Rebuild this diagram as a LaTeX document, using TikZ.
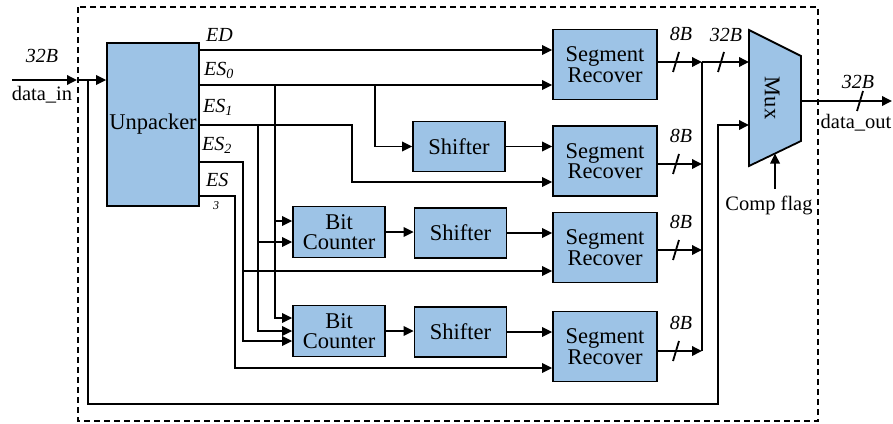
\documentclass[tikz,border=0pt]{standalone}
\usepackage{fontspec}
\setmainfont{Liberation Serif}
\usetikzlibrary{arrows.meta}
\definecolor{boxblue}{RGB}{157,195,230}

\begin{document}
\begin{tikzpicture}[x=1pt,y=-1pt,
  blk/.style={draw, fill=boxblue, line width=1.8pt, inner sep=0pt, align=center,
              font=\fontsize{22.5}{20.5}\selectfont},
  srbox/.style={blk, minimum width=104pt, minimum height=70pt},
  shbox/.style={blk, minimum width=92pt, minimum height=50pt},
  bcbox/.style={blk, minimum width=92pt, minimum height=51pt},
  wire/.style={line width=1.8pt},
  arr/.style={wire, -{Triangle[length=10pt,width=9.5pt]}},
  lbl/.style={font=\fontsize{20}{22}\selectfont\itshape, inner sep=0pt},
  txt/.style={font=\fontsize{20.5}{22}\selectfont, inner sep=0pt},
  frame/.style={line width=1.3pt, dash pattern=on 6pt off 4pt}
]
\useasboundingbox (0,0) rectangle (893,423);

% module boundary
\draw[frame] (78,7) rectangle (818,421);

% blocks
\node[blk, minimum width=92pt, minimum height=163pt] (unp) at (153,124.5) {Unpacker};
\node[srbox] (sr1) at (605,64.5) {Segment\\Recover};
\node[srbox] (sr2) at (605,161) {Segment\\Recover};
\node[srbox] (sr3) at (605,247.5) {Segment\\Recover};
\node[srbox] (sr4) at (605,346.5) {Segment\\Recover};
\node[shbox] (sh1) at (459,146.5) {Shifter};
\node[shbox] (sh2) at (460.5,233) {Shifter};
\node[shbox] (sh3) at (460.5,332) {Shifter};
\node[bcbox] (bc1) at (339,232) {Bit\\Counter};
\node[bcbox] (bc2) at (339,331) {Bit\\Counter};

% multiplexer
\coordinate (mA) at (749,30);
\coordinate (mB) at (801,56);
\coordinate (mC) at (801,141);
\coordinate (mD) at (749,166);
\draw[fill=boxblue, line width=1.8pt, line join=miter] (mA) -- (mB) -- (mC) -- (mD) -- cycle;
\node[rotate=-90, font=\fontsize{22.5}{22}\selectfont, inner sep=0pt] (mux) at (772,98) {Mux};
\coordinate (min1) at (749,62);
\coordinate (min2) at (749,125);
\coordinate (mout) at (801,101);
\coordinate (msel) at (775,153.5);

% input and bypass path
\coordinate (din) at (12,80);
\coordinate (edge) at (77,80);
\coordinate (tap) at (88,80);
\draw[arr] (din) -- (edge);
\draw[arr] (edge) -- (unp.west |- edge);
\draw[arr] (tap) -- (88,404) -- (718,404) -- (718,125) -- (min2);
\node[lbl] at (42,56) {32B};
\node[txt] at (42,95) {data\_in};

% ED
\draw[arr] (unp.east |- 0,50) -- (sr1.west |- 0,50);
\node[lbl, anchor=base west] at (206,41) {ED};
% ES0
\draw[arr] (unp.east |- 0,85) -- (sr1.west |- 0,85);
\draw[arr] (275,85) |- (bc1.west |- 0,221);
\draw[arr] (275,85) |- (bc2.west |- 0,318);
\draw[arr] (375,85) |- (sh1.west);
\node[lbl, anchor=base west] at (204,75) {ES\textsubscript{0}};
% ES1
\draw[arr] (unp.east |- 0,125) -| (352,182) -- (sr2.west |- 0,182);
\draw[arr] (258,125) |- (bc1.west |- 0,242);
\draw[arr] (258,125) |- (bc2.west |- 0,331);
\node[lbl, anchor=base west] at (203,112) {ES\textsubscript{1}};
% ES2
\draw[arr] (unp.east |- 0,162) -| (243,341) -- (bc2.west |- 0,341);
\draw[arr] (243,271) -- (sr3.west |- 0,271);
\node[lbl, anchor=base west] at (202,150) {ES\textsubscript{2}};
% ES3
\draw[arr] (unp.east |- 0,196) -| (235,368) -- (sr4.west |- 0,368);
\node[lbl, anchor=base west] at (206,186) {ES};
\node[lbl, anchor=base west, font=\fontsize{12}{12}\selectfont\itshape] at (213,209) {3};

% processing chains
\draw[arr] (bc1.east) -- (sh2.west |- bc1.east);
\draw[arr] (bc2.east) -- (sh3.west |- bc2.east);
\draw[arr] (sh1.east) -- (sr2.west |- sh1.east);
\draw[arr] (sh2.east) -- (sr3.west |- sh2.east);
\draw[arr] (sh3.east) -- (sr4.west |- sh3.east);

% segment outputs onto the 32B bus
\coordinate (busx) at (702,0);
\draw[arr] (sr1.east |- 0,62) -- (busx |- 0,62);
\draw[arr] (sr2.east |- 0,164) -- (busx |- 0,164);
\draw[arr] (sr3.east |- 0,250) -- (busx |- 0,250);
\draw[arr] (sr4.east |- 0,351) -- (busx |- 0,351);
\draw[wire] (busx |- 0,62) -- (busx |- 0,351);
\draw[arr] (busx |- 0,62) -- (min1);
\foreach \yy in {62,164,250,351} {
  \draw[wire] (673,\yy+10) -- (679,\yy-10);
  \node[lbl] at (681,\yy-28) {8B};
}
\draw[wire] (718,72) -- (724,52);
\node[lbl] at (726,35) {32B};

% output
\coordinate (dout) at (892,101);
\draw[arr] (mout) -- (dout);
\draw[wire] (857,111) -- (863,91);
\node[lbl] at (858,82) {32B};
\node[txt] at (856,123) {data\_out};

% select
\node[txt] (cflag) at (769,205) {Comp flag};
\coordinate (cfs) at (775,189);
\draw[arr] (cfs) -- (msel);
\end{tikzpicture}
\end{document}
